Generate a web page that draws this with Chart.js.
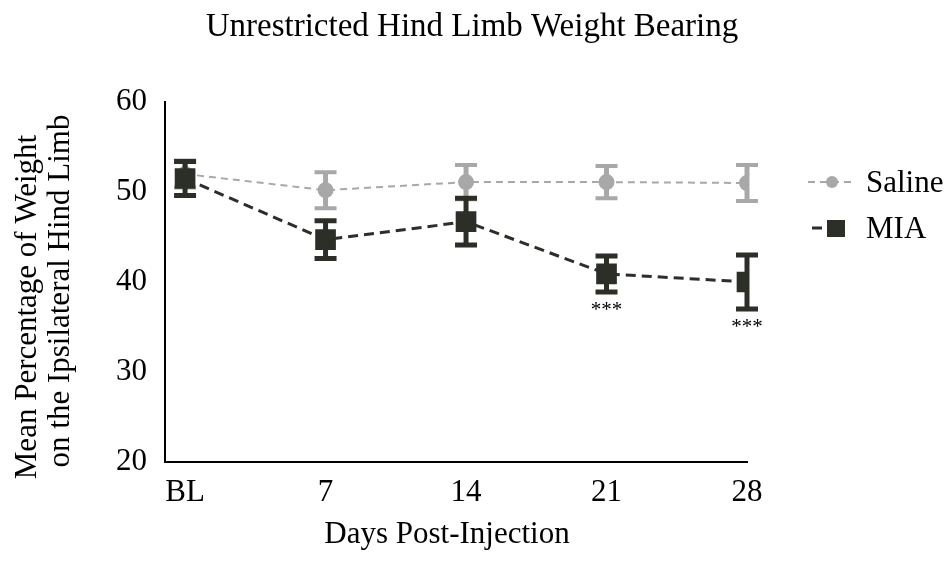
<!DOCTYPE html>
<html>
<head>
<meta charset="utf-8">
<script src="https://cdn.jsdelivr.net/npm/chart.js@4/dist/chart.umd.min.js"></script>
<style>
  html, body { margin: 0; padding: 0; background: #fff; }
  #wrap { width: 947px; height: 561px; position: relative; }
</style>
</head>
<body>
<div id="wrap"><canvas id="weightChart"></canvas></div>
<script>
const days = [0, 7, 14, 21, 28];
const dayLabels = ['BL', '7', '14', '21', '28'];
const salineMean = [52.0, 50.2, 51.1, 51.1, 51.0];
const salineErr = [1.5, 2.0, 1.9, 1.8, 2.0];
const miaMean = [51.5, 44.7, 46.7, 40.9, 40.0];
const miaErr = [1.9, 2.1, 2.6, 2.0, 3.0];
const miaStars = ['', '', '', '***', '***'];
const yTicks = [20, 30, 40, 50, 60];
const chartTitle = 'Unrestricted Hind Limb Weight Bearing';
const xTitle = 'Days Post-Injection';
const yTitle = ['Mean Percentage of Weight', 'on the Ipsilateral Hind Limb'];

const serif = "'Liberation Serif', 'DejaVu Serif', serif";
const salineColor = '#a8a8a8';
const miaColor = '#2c2f27';

// error bars and significance stars, placed with the chart's own scales
const errorBars = {
  id: 'errorBars',
  afterDatasetDraw(chart, args) {
    const ds = chart.data.datasets[args.index];
    const y = chart.scales.y;
    const ctx = chart.ctx;
    ctx.save();
    ctx.strokeStyle = ds.borderColor;
    ctx.setLineDash([]);
    args.meta.data.forEach((pt, i) => {
      const top = y.getPixelForValue(ds.data[i].y + ds.err[i]);
      const bot = y.getPixelForValue(ds.data[i].y - ds.err[i]);
      ctx.lineWidth = ds.errStem;
      ctx.beginPath();
      ctx.moveTo(pt.x, top);
      ctx.lineTo(pt.x, bot);
      ctx.stroke();
      ctx.lineWidth = ds.errCap;
      ctx.beginPath();
      ctx.moveTo(pt.x - 11, top);
      ctx.lineTo(pt.x + 11, top);
      ctx.moveTo(pt.x - 11, bot);
      ctx.lineTo(pt.x + 11, bot);
      ctx.stroke();
      if (ds.stars && ds.stars[i]) {
        ctx.fillStyle = '#000';
        ctx.font = '21px ' + serif;
        ctx.textAlign = 'center';
        ctx.textBaseline = 'top';
        ctx.fillText(ds.stars[i], pt.x, bot + 8);
      }
    });
    ctx.restore();
  }
};

const pageText = {
  id: 'pageText',
  afterDraw(chart) {
    const ctx = chart.ctx;
    ctx.save();
    ctx.fillStyle = '#000';
    ctx.textAlign = 'center';
    ctx.textBaseline = 'middle';
    ctx.font = '33px ' + serif;
    ctx.fillText(chartTitle, 472, 27);

    ctx.font = '31px ' + serif;
    ctx.fillText(xTitle, 447, 535);

    // two-line y title, each line centred on its own
    ctx.save();
    ctx.translate(28, 307);
    ctx.rotate(-Math.PI / 2);
    ctx.fillText(yTitle[0], 0, 0);
    ctx.restore();
    ctx.save();
    ctx.translate(61, 291);
    ctx.rotate(-Math.PI / 2);
    ctx.fillText(yTitle[1], 0, 0);
    ctx.restore();

    // legend on the right
    const items = chart.data.datasets.slice().sort((a, b) => a.legendRank - b.legendRank);
    items.forEach((ds, i) => {
      const cy = 182 + i * 46;
      ctx.strokeStyle = ds.borderColor;
      ctx.lineWidth = ds.borderWidth;
      ctx.setLineDash(ds.borderDash);
      ctx.beginPath();
      ctx.moveTo(ds.pointStyle === 'rect' ? 812 : 808, cy);
      ctx.lineTo(ds.pointStyle === 'rect' ? 836 : 853, cy);
      ctx.stroke();
      ctx.setLineDash([]);
      ctx.fillStyle = ds.borderColor;
      if (ds.pointStyle === 'rect') {
        ctx.fillRect(836 - 9, cy - 8, 18, 17);
      } else {
        ctx.beginPath();
        ctx.arc(832, cy, 6, 0, Math.PI * 2);
        ctx.fill();
      }
      ctx.fillStyle = '#000';
      ctx.font = '31px ' + serif;
      ctx.textAlign = 'left';
      ctx.textBaseline = 'middle';
      ctx.fillText(ds.label, 866, cy + 2);
    });
    ctx.restore();
  }
};

const toPoints = (vals) => vals.map((v, i) => ({ x: days[i], y: v }));

new Chart(document.getElementById('weightChart'), {
  type: 'line',
  data: {
    datasets: [
      {
        label: 'Saline',
        data: toPoints(salineMean),
        err: salineErr,
        errStem: 5,
        errCap: 4,
        borderColor: salineColor,
        backgroundColor: salineColor,
        borderWidth: 2,
        borderDash: [7, 5],
        pointStyle: 'circle',
        pointRadius: 7,
        order: 2,
        legendRank: 0
      },
      {
        label: 'MIA',
        data: toPoints(miaMean),
        err: miaErr,
        errStem: 5,
        errCap: 5,
        stars: miaStars,
        borderColor: miaColor,
        backgroundColor: miaColor,
        borderWidth: 3,
        borderDash: [10, 6],
        pointStyle: 'rect',
        pointRadius: 12.5,
        order: 1,
        legendRank: 1
      }
    ]
  },
  options: {
    responsive: true,
    maintainAspectRatio: false,
    animation: false,
    layout: { padding: { left: 0, right: 200, top: 102, bottom: 0 } },
    plugins: {
      legend: { display: false },
      tooltip: { enabled: false },
      title: { display: false }
    },
    scales: {
      x: {
        type: 'linear',
        min: -1,
        max: 28,
        afterBuildTicks(scale) {
          scale.ticks = days.map(d => ({ value: d }));
        },
        afterFit(scale) { scale.height = 99; },
        ticks: {
          color: '#000',
          font: { family: serif, size: 31 },
          padding: 3,
          callback(value) {
            const i = days.indexOf(value);
            return i >= 0 ? dayLabels[i] : '';
          }
        },
        grid: { display: false, drawOnChartArea: false, drawTicks: true, tickLength: 9, tickColor: '#000', tickWidth: 2 },
        border: { display: true, color: '#000', width: 2 },
        title: { display: false }
      },
      y: {
        min: 20,
        max: 60,
        afterBuildTicks(scale) {
          scale.ticks = yTicks.map(v => ({ value: v }));
        },
        afterFit(scale) { scale.width = 165; },
        ticks: {
          color: '#000',
          font: { family: serif, size: 31 },
          padding: 8
        },
        grid: { display: false, drawOnChartArea: false, drawTicks: true, tickLength: 10, tickColor: '#000', tickWidth: 2 },
        border: { display: true, color: '#000', width: 2 },
        title: { display: false }
      }
    }
  },
  plugins: [errorBars, pageText]
});
</script>
</body>
</html>
